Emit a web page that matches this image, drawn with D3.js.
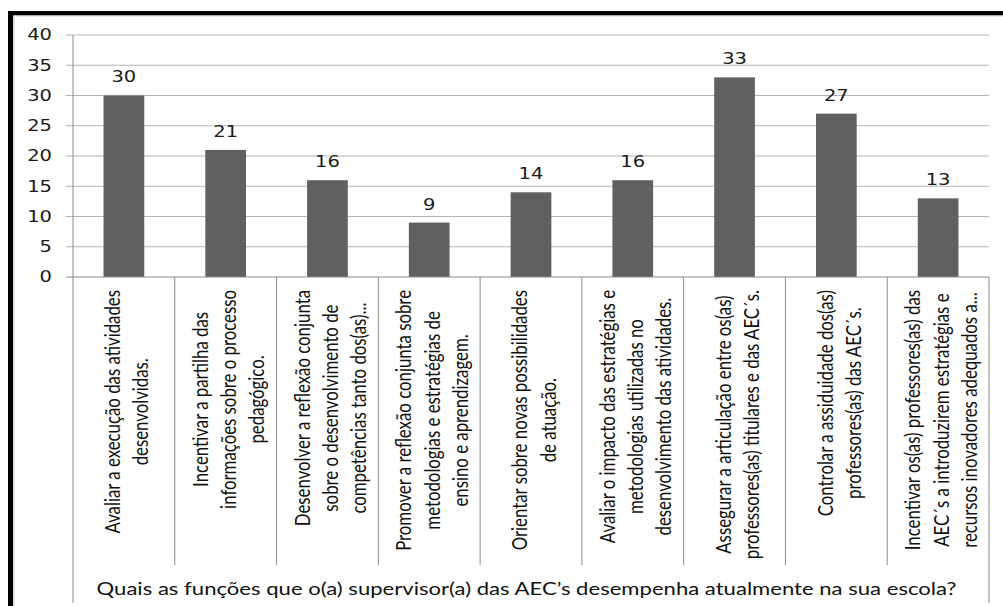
<!DOCTYPE html>
<html>
<head>
<meta charset="utf-8">
<script src="https://cdn.jsdelivr.net/npm/d3@7"></script>
<style>
  html, body { margin: 0; padding: 0; background: #fff; overflow: hidden; }
  svg { display: block; }
</style>
</head>
<body>
<svg id="chart" width="1003" height="606"></svg>
<script>
// Survey answers: functions performed by the AEC supervisor
const categories = [
  "Avaliar a execução das atividades\ndesenvolvidas.",
  "Incentivar a partilha das\ninformações sobre o processo\npedagógico.",
  "Desenvolver a reflexão conjunta\nsobre o desenvolvimento de\ncompetências tanto dos(as)...",
  "Promover a reflexão conjunta sobre\nmetodologias e estratégias de\nensino e aprendizagem.",
  "Orientar sobre novas possibilidades\nde atuação.",
  "Avaliar o impacto das estratégias e\nmetodologias utilizadas no\ndesenvolvimento das atividades.",
  "Assegurar a articulação entre os(as)\nprofessores(as) titulares e das AEC´s.",
  "Controlar a assiduidade dos(as)\nprofessores(as) das AEC´s.",
  "Incentivar os(as) professores(as) das\nAEC´s a introduzirem estratégias e\nrecursos inovadores adequados a..."
];
const values = [30, 21, 16, 9, 14, 16, 33, 27, 13];
const yTicks = [0, 5, 10, 15, 20, 25, 30, 35, 40];
const axisTitle = "Quais as funções que o(a) supervisor(a) das AEC’s desempenha atualmente na sua escola?";

const W = 1003, H = 606;
const SX = 1.3;              // the whole drawing is stretched horizontally
const VW = W / SX;

const svg = d3.select("#chart")
  .attr("viewBox", `0 0 ${VW} ${H}`)
  .attr("preserveAspectRatio", "none");

const plot = { left: 73 / SX, right: 989 / SX, top: 35, bottom: 277 };
const catBottom = 565, outerBottom = 603;

const x = d3.scaleBand()
  .domain(d3.range(categories.length))
  .range([plot.left, plot.right])
  .padding(0);
const y = d3.scaleLinear().domain([0, 40]).range([plot.bottom, plot.top]);
const barW = x.bandwidth() * 0.4;

const numFont = "'DejaVu Sans', Verdana, sans-serif";
const txtFont = "Lato, 'Open Sans', sans-serif";

// outer frame
svg.append("rect").attr("x", 8 / SX).attr("y", 11).attr("width", VW).attr("height", 4.5).attr("fill", "#000");
svg.append("rect").attr("x", 8 / SX).attr("y", 11).attr("width", 5 / SX).attr("height", H).attr("fill", "#000");
svg.append("line").attr("x1", 14 / SX).attr("x2", 14 / SX).attr("y1", 16).attr("y2", H)
  .attr("stroke", "#c8c8c8").attr("vector-effect", "non-scaling-stroke");
svg.append("line").attr("x1", 14 / SX).attr("x2", VW).attr("y1", 16).attr("y2", 16)
  .attr("stroke", "#d8d8d8").attr("vector-effect", "non-scaling-stroke");

// horizontal gridlines with outward tick marks
svg.append("g").selectAll("line")
  .data(yTicks.filter(t => t > 0))
  .join("line")
  .attr("x1", 66 / SX).attr("x2", plot.right)
  .attr("y1", d => y(d)).attr("y2", d => y(d))
  .attr("stroke", "#b4b4b4").attr("stroke-width", 1.2)
  .attr("vector-effect", "non-scaling-stroke");

// y tick labels
svg.append("g").selectAll("text")
  .data(yTicks)
  .join("text")
  .attr("x", 52 / SX).attr("y", d => y(d) + 5.5)
  .attr("text-anchor", "end")
  .attr("font-family", numFont).attr("font-size", 15).attr("fill", "#1a1a1a")
  .text(d => d);

// bars
svg.append("g").selectAll("rect")
  .data(values)
  .join("rect")
  .attr("x", (d, i) => x(i) + (x.bandwidth() - barW) / 2)
  .attr("y", d => y(d))
  .attr("width", barW)
  .attr("height", d => y(0) - y(d))
  .attr("fill", "#606060");

// value labels
svg.append("g").selectAll("text")
  .data(values)
  .join("text")
  .attr("x", (d, i) => x(i) + x.bandwidth() / 2)
  .attr("y", d => y(d) - 13)
  .attr("text-anchor", "middle")
  .attr("font-family", numFont).attr("font-size", 15).attr("fill", "#1a1a1a")
  .text(d => d);

// axes lines
const axisColor = "#8c8c8c";
svg.append("line").attr("x1", 66 / SX).attr("x2", plot.right).attr("y1", y(0)).attr("y2", y(0))
  .attr("stroke", axisColor).attr("vector-effect", "non-scaling-stroke");
svg.append("line").attr("x1", plot.left).attr("x2", plot.left).attr("y1", plot.top).attr("y2", outerBottom)
  .attr("stroke", axisColor).attr("vector-effect", "non-scaling-stroke");
svg.append("line").attr("x1", plot.right).attr("x2", plot.right).attr("y1", y(0)).attr("y2", outerBottom)
  .attr("stroke", axisColor).attr("vector-effect", "non-scaling-stroke");
svg.append("g").selectAll("line")
  .data(d3.range(1, categories.length))
  .join("line")
  .attr("x1", d => x(d)).attr("x2", d => x(d))
  .attr("y1", y(0)).attr("y2", catBottom)
  .attr("stroke", axisColor).attr("vector-effect", "non-scaling-stroke");

// rotated category labels, longest line starting just below the axis
const lineStep = 28.3 / SX;
const labelTop = 290;
const groups = svg.append("g").selectAll("g")
  .data(categories)
  .join("g");
groups.each(function (d, i) {
  const g = d3.select(this);
  const lines = d.split("\n");
  const n = lines.length;
  const texts = g.selectAll("text")
    .data(lines)
    .join("text")
    .attr("text-anchor", "middle")
    .attr("dominant-baseline", "central")
    .attr("y", (l, j) => (j - (n - 1) / 2) * lineStep)
    .attr("font-family", txtFont).attr("font-size", 16.8).attr("fill", "#111")
    .text(l => l);
  let maxLen = 0;
  texts.each(function () { maxLen = Math.max(maxLen, this.getComputedTextLength()); });
  const cx = x(i) + x.bandwidth() / 2 + 2 / SX;
  g.attr("transform", `translate(${cx},${labelTop + maxLen / 2}) rotate(-90)`);
});

// category axis title
svg.append("text")
  .attr("x", 526.5 / SX).attr("y", 595)
  .attr("text-anchor", "middle")
  .attr("font-family", txtFont).attr("font-size", 17).attr("fill", "#111")
  .text(axisTitle);
</script>
</body>
</html>
